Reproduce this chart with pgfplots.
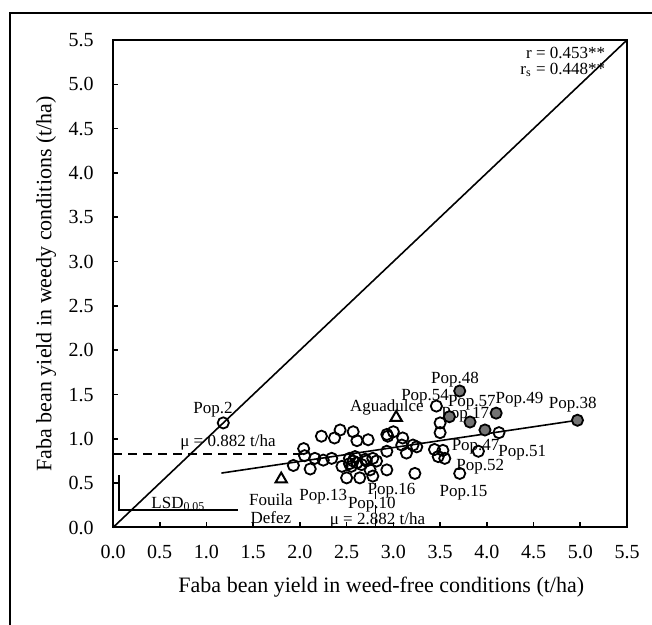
\documentclass[border=0pt]{standalone}
\usepackage{pgfplots}
\pgfplotsset{compat=1.18}
\usepackage{fontspec}
\setmainfont{Liberation Serif}
\begin{document}
\begin{tikzpicture}
\path[use as bounding box] (0,0) rectangle (326pt,312.5pt);
\draw[line width=1.2pt] (5pt,0) -- (5pt,306pt) -- (326pt,306pt);
\begin{axis}[
  at={(56.5pt,48.75pt)}, anchor=south west,
  scale only axis, width=257pt, height=243.75pt,
  xmin=0, xmax=5.5, ymin=0, ymax=5.5,
  xtick={0,0.5,1,1.5,2,2.5,3,3.5,4,4.5,5,5.5},
  ytick={0,0.5,1,1.5,2,2.5,3,3.5,4,4.5,5,5.5},
  tick align=inside, tick pos=left,
  major tick length=2.5pt,
  axis line style={line width=1pt},
  every tick/.style={line width=0.8pt, black},
  /pgf/number format/assume math mode=true,
  /pgf/number format/fixed, /pgf/number format/fixed zerofill, /pgf/number format/precision=1,
  ticklabel style={font=\fontsize{10}{11}\selectfont},
  label style={font=\fontsize{11}{13}\selectfont},
  xlabel={Faba bean yield in weed-free conditions (t/ha)},
  ylabel={Faba bean yield in weedy conditions (t/ha)},
  xlabel style={at={(axis description cs:0.522,-0.122)}, anchor=center},
  ylabel style={at={(axis description cs:-0.13,0.5)}, anchor=center},
  yticklabel style={xshift=-6.2pt},
  xticklabel style={yshift=-5.5pt},
  clip=false,
]
\addplot[no marks, line width=0.8pt] coordinates {(0,0) (5.5,5.5)};
\addplot[no marks, line width=0.9pt, dash pattern=on 4.5pt off 3pt] coordinates {(0,0.83) (2.05,0.83)};
\addplot[no marks, line width=0.7pt, dash pattern=on 4pt off 3pt] coordinates {(2.81,0) (2.81,0.5)};
\addplot[no marks, line width=0.8pt] coordinates {(1.16,0.614) (4.97,1.21)};
\addplot[no marks, line width=0.8pt] coordinates {(0.064,0.59) (0.064,0.198) (1.34,0.198)};
% open circles
\addplot[only marks, mark=o, mark size=2.8pt, mark options={line width=0.9pt, black}] coordinates {
(1.18,1.18) (3.46,1.37) (4.13,1.07) (3.50,1.18) (3.50,1.07)
(2.23,1.03) (2.43,1.10) (2.57,1.08) (2.37,1.01) (2.61,0.98)
(2.73,0.99) (2.93,1.05) (3.00,1.08) (2.94,1.03) (3.10,1.01)
(3.09,0.93) (3.21,0.93) (3.25,0.91) (2.93,0.86) (3.14,0.84)
(3.44,0.88) (3.53,0.87) (3.48,0.80) (3.55,0.78) (3.91,0.86)
(3.71,0.61) (3.23,0.61) (2.04,0.89) (2.05,0.81) (1.93,0.70)
(2.11,0.66) (2.16,0.78) (2.34,0.78) (2.45,0.69) (2.53,0.78)
(2.59,0.80) (2.61,0.73) (2.55,0.69) (2.66,0.71) (2.71,0.75)
(2.78,0.78) (2.82,0.75) (2.75,0.65) (2.50,0.56) (2.64,0.56)
(2.78,0.58) (2.93,0.65) (2.25,0.76) (2.57,0.75) (2.70,0.77)
(2.53,0.72)
};
% filled circles
\addplot[only marks, mark=*, mark size=2.8pt, mark options={line width=0.9pt, draw=black, fill=black!55}] coordinates {
(3.71,1.54) (3.60,1.25) (3.82,1.19) (4.10,1.29) (3.98,1.10) (4.97,1.21)
};
% triangles
\addplot[only marks, mark=triangle, mark size=3.3pt, mark options={line width=1pt, black}] coordinates {
(3.03,1.24) (1.80,0.545)
};
\begin{scope}[every node/.style={font=\fontsize{8.5}{9.2}\selectfont, inner sep=0pt}]
\node at (axis cs:1.07,1.33) {Pop.2};
\node at (axis cs:1.23,0.957) {μ = 0.882 t/ha};
\node[align=center] at (axis cs:1.69,0.21) {Fouila\\Defez};
\node at (axis cs:2.93,1.35) {Aguadulce};
\node at (axis cs:3.34,1.47) {Pop.54};
\node at (axis cs:3.66,1.67) {Pop.48};
\node at (axis cs:3.84,1.41) {Pop.57};
\node at (axis cs:3.77,1.27) {Pop.17};
\node at (axis cs:4.35,1.44) {Pop.49};
\node at (axis cs:4.92,1.39) {Pop.38};
\node at (axis cs:3.88,0.91) {Pop.47};
\node at (axis cs:4.38,0.84) {Pop.51};
\node at (axis cs:3.93,0.69) {Pop.52};
\node at (axis cs:3.75,0.387) {Pop.15};
\node at (axis cs:2.98,0.417) {Pop.16};
\node at (axis cs:2.25,0.35) {Pop.13};
\node at (axis cs:2.77,0.255) {Pop.10};
\node at (axis cs:2.83,0.085) {μ = 2.882 t/ha};
\node at (axis cs:0.70,0.266) {LSD\textsubscript{0.05}};
\node[anchor=east] at (axis cs:5.27,5.35) {r = 0.453**};
\node[anchor=east] at (axis cs:5.27,5.16) {r\textsubscript{s} = 0.448**};
\end{scope}
\end{axis}
\end{tikzpicture}
\end{document}
